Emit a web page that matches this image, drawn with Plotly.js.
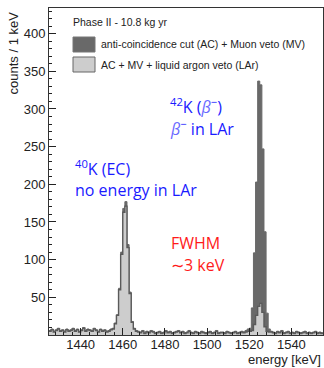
<!DOCTYPE html>
<html>
<head>
<meta charset="utf-8">
<script src="https://cdn.plot.ly/plotly-3.0.1.min.js"></script>
<style>html,body{margin:0;padding:0;background:#fff;}#chart{width:324px;height:368px;}</style>
</head>
<body>
<div id="chart"></div>
<script>
// ---- data (counts per 1 keV bin, bins start at binLow) ----
const binLow = 1425;
const binWidth = 1;
// anti-coincidence cut (AC) + Muon veto (MV)
const acmv = [
  6,8,5,7,9,6,7,5,8,6,
  7,9,6,8,5,7,10,6,8,7,
  6,9,7,5,8,6,7,5,6,8,
  9,16,27,62,110,168,177,120,57,18,9,6,
  5,4,6,3,5,4,6,5,3,4,
  5,3,4,6,4,5,3,4,5,6,
  4,5,3,4,6,4,3,5,4,3,
  5,4,3,4,5,3,4,6,3,4,
  4,3,5,4,3,4,5,3,4,5,
  4,6,8,
  9,36,109,203,337,332,247,137,29,8,
  5,4,3,5,4,6,3,4,5,3,
  4,3,5,4,3,4,5,3,4,3,
  4,5,3,4,3
];
// AC + MV + liquid argon veto (LAr)
const acmvlar = [
  5,7,4,6,8,5,6,4,7,5,
  6,8,5,7,4,6,9,5,7,6,
  5,8,6,4,7,5,6,4,5,7,
  8,15,26,60,107,163,171,116,55,17,8,5,
  4,3,5,2,4,3,5,4,2,3,
  4,2,3,5,3,4,2,3,4,5,
  3,4,2,3,5,3,2,4,3,2,
  4,3,2,3,4,2,3,5,2,3,
  3,2,4,3,2,3,4,2,3,4,
  3,4,5,
  5,6,14,26,38,42,30,11,5,4,
  4,3,2,4,3,5,2,3,4,2,
  3,2,4,3,2,3,4,2,3,2,
  3,4,2,3,2
];
const xTicks = [1440, 1460, 1480, 1500, 1520, 1540];
const yTicks = [50, 100, 150, 200, 250, 300, 350, 400];
const legendLabels = ["anti-coincidence cut (AC) + Muon veto (MV)", "AC + MV + liquid argon veto (LAr)"];
const legendTitle = "Phase II - 10.8 kg yr";

// ---- build step histograms ----
const edges = acmv.map((_, i) => binLow + i * binWidth);
const xs = edges.concat([edges[edges.length - 1] + binWidth]);
const ys = c => c.concat([c[c.length - 1]]);

const darkCol = '#696969', lightCol = '#cdcdcd', edgeCol = '#5a5a5a';

const traces = [
  {x: xs, y: ys(acmv), type: 'scatter', mode: 'lines', name: legendLabels[0],
   line: {shape: 'hv', color: darkCol, width: 1}, fill: 'tozeroy', fillcolor: darkCol, hoverinfo: 'skip'},
  {x: xs, y: ys(acmvlar), type: 'scatter', mode: 'lines', name: legendLabels[1],
   line: {shape: 'hv', color: edgeCol, width: 1.4}, fill: 'tozeroy', fillcolor: lightCol, hoverinfo: 'skip'}
];

// pixel -> paper helpers (plot area: x 49..323, y 8..335)
const L = 49, R = 323, T = 8, B = 335;
const PX = p => (p - L) / (R - L);
const PY = p => (B - p) / (B - T);

const tickFont = {family: 'Liberation Sans, Arial, sans-serif', size: 13, color: '#222'};
const blue = '#1a1aff', lblue = '#6a6aff', red = '#ff1a1a';
const bigFont = (c) => ({family: 'Open Sans, sans-serif', size: 16, color: c});

const ann = [];
const A = (txt, x, y, font, extra) => ann.push(Object.assign({text: txt, xref: 'paper', yref: 'paper', x: PX(x), y: PY(y),
  xanchor: 'left', yanchor: 'middle', showarrow: false, font: font}, extra || {}));

// legend box content
const smallFont = {family: 'Liberation Sans, Arial, sans-serif', size: 10.5, color: '#222'};
A(legendTitle, 71, 22, smallFont);
A(legendLabels[0], 99, 44, smallFont);
A(legendLabels[1], 99, 64.5, smallFont);

// physics labels
A('<sup>42</sup>K (<i><span style="color:' + lblue + '">β</span></i><sup>−</sup>)', 168, 106, bigFont(blue));
A('<i><span style="color:' + lblue + '">β</span></i><sup>−</sup> in LAr', 168, 128, bigFont(blue));
A('<sup>40</sup>K (EC)', 73, 168, bigFont(blue));
A('no energy in LAr', 73, 190, bigFont(blue));
A('FWHM', 169, 243, bigFont(red));
A('∼3 keV', 169, 265, bigFont(red));

// axis titles
A('energy [keV]', 323, 359, {family: 'Liberation Sans, Arial, sans-serif', size: 13, color: '#222'}, {xanchor: 'right'});
A('counts / 1 keV', 13, 10, {family: 'Liberation Sans, Arial, sans-serif', size: 13, color: '#222'},
  {textangle: -90, xanchor: 'center', yanchor: 'top'});

const shapes = [
  {type: 'rect', xref: 'paper', yref: 'paper', x0: PX(73), x1: PX(95), y0: PY(52), y1: PY(37),
   fillcolor: darkCol, line: {color: '#777', width: 1}},
  {type: 'rect', xref: 'paper', yref: 'paper', x0: PX(73), x1: PX(95), y0: PY(72), y1: PY(57),
   fillcolor: lightCol, line: {color: '#666', width: 1}}
];

const layout = {
  width: 324, height: 368,
  margin: {l: L, r: 324 - R, t: T, b: 368 - B},
  paper_bgcolor: '#fff', plot_bgcolor: '#fff',
  showlegend: false,
  xaxis: {range: [binLow, 1555], tickmode: 'array', tickvals: xTicks, ticktext: xTicks.map(String),
    ticks: 'inside', ticklen: 7, tickwidth: 1, tickcolor: '#222', ticklabelstandoff: -3,
    minor: {ticks: 'inside', ticklen: 3, tickmode: 'linear', tick0: 1420, dtick: 4, tickcolor: '#222'},
    showgrid: false, zeroline: false, showline: true, linecolor: '#333', linewidth: 1, mirror: true,
    tickfont: tickFont},
  yaxis: {range: [0, 434], tickmode: 'array', tickvals: yTicks, ticktext: yTicks.map(String),
    ticks: 'inside', ticklen: 7, tickwidth: 1, tickcolor: '#222',
    minor: {ticks: 'inside', ticklen: 3, tickmode: 'linear', tick0: 0, dtick: 10, tickcolor: '#222'},
    showgrid: false, zeroline: false, showline: true, linecolor: '#333', linewidth: 1, mirror: true,
    tickfont: tickFont},
  annotations: ann,
  shapes: shapes
};

Plotly.newPlot('chart', traces, layout, {staticPlot: true, displayModeBar: false});
</script>
</body>
</html>
